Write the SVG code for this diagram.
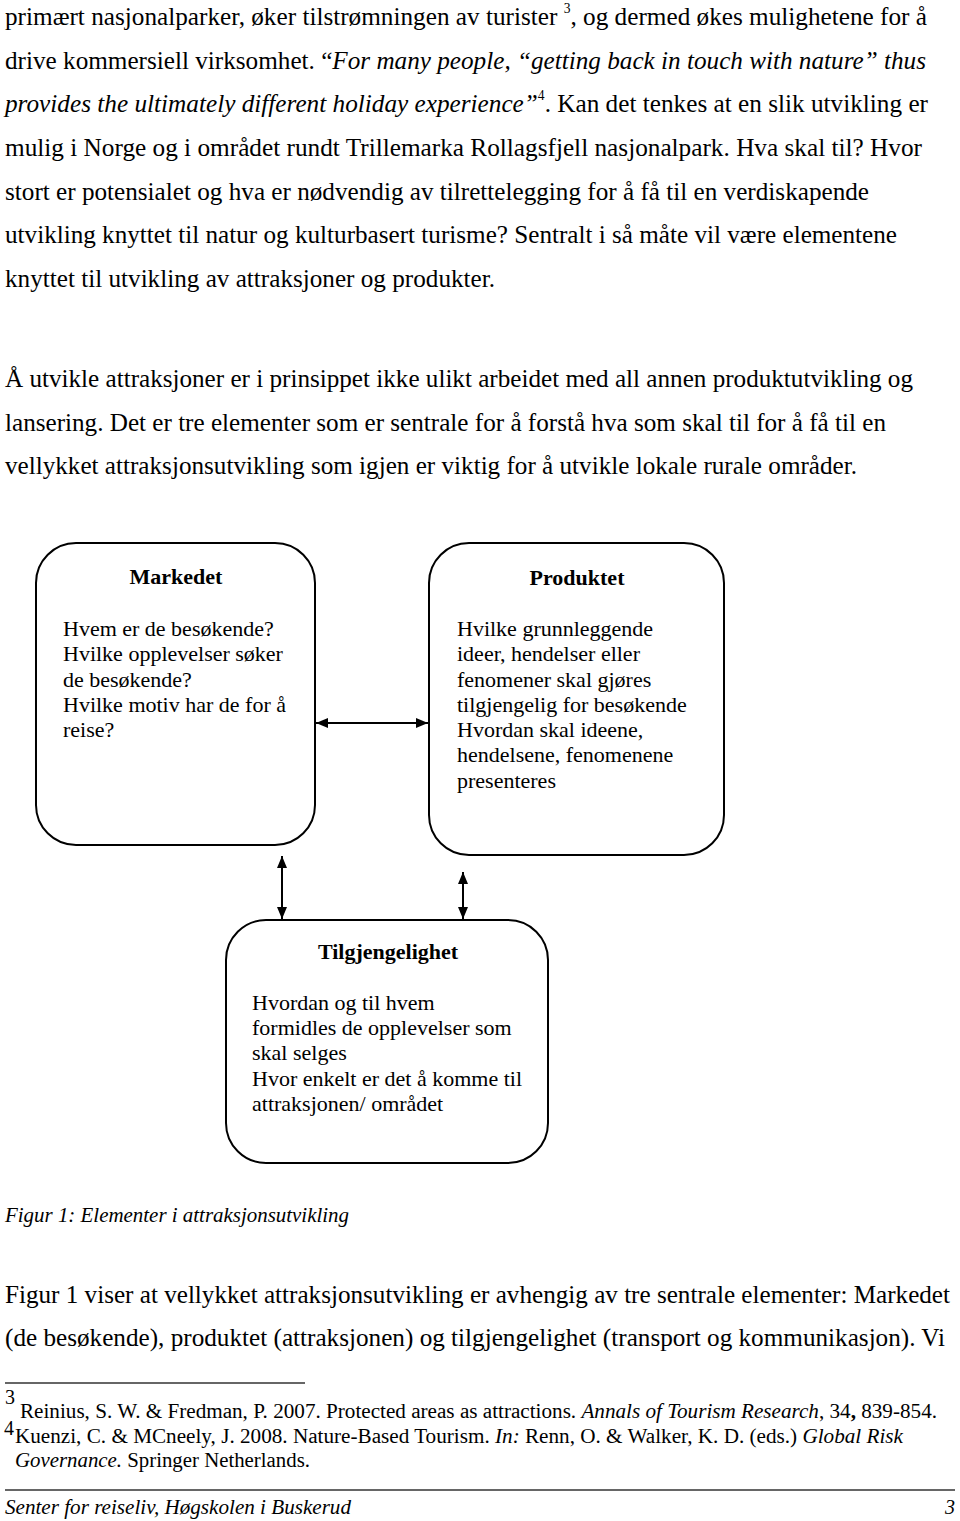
<svg xmlns="http://www.w3.org/2000/svg" width="960" height="1521" viewBox="0 0 960 1521">
<style>
.b{font-family:"Liberation Serif","Times New Roman",serif;font-size:26px;fill:#000}
.i{font-style:italic}
.bx{font-family:"Liberation Serif","Times New Roman",serif;font-size:22px;fill:#000}
.t{font-weight:bold;text-anchor:middle}
.fn{font-family:"Liberation Serif","Times New Roman",serif;font-size:20px;fill:#000}
.box{fill:#fff;stroke:#000;stroke-width:2}
.con{stroke:#000;stroke-width:2;fill:none}
</style>
<defs>
<marker id="ah" viewBox="0 0 12 10" refX="12" refY="5" markerWidth="12" markerHeight="10" orient="auto-start-reverse" markerUnits="userSpaceOnUse"><path d="M0,0 L12,5 L0,10 z" fill="#000"/></marker>
</defs>
<rect width="960" height="1521" fill="#fff"/>
<g id="body-text">
<text class="b" x="5" y="25" textLength="922" lengthAdjust="spacingAndGlyphs">primært nasjonalparker, øker tilstrømningen av turister <tspan font-size="14" dy="-12">3</tspan><tspan dy="12">, og dermed økes mulighetene for å</tspan></text>
<text class="b" x="5" y="69" textLength="921" lengthAdjust="spacingAndGlyphs">drive kommersiell virksomhet. “<tspan class="i">For many people, “getting back in touch with nature” thus</tspan></text>
<text class="b" x="5" y="112" textLength="923" lengthAdjust="spacingAndGlyphs"><tspan class="i">provides the ultimately different holiday experience”</tspan><tspan font-size="14" dy="-12">4</tspan><tspan dy="12">. Kan det tenkes at en slik utvikling er</tspan></text>
<text class="b" x="5" y="156" textLength="917" lengthAdjust="spacingAndGlyphs">mulig i Norge og i området rundt Trillemarka Rollagsfjell nasjonalpark. Hva skal til? Hvor</text>
<text class="b" x="5" y="200" textLength="864" lengthAdjust="spacingAndGlyphs">stort er potensialet og hva er nødvendig av tilrettelegging for å få til en verdiskapende</text>
<text class="b" x="5" y="243" textLength="892" lengthAdjust="spacingAndGlyphs">utvikling knyttet til natur og kulturbasert turisme? Sentralt i så måte vil være elementene</text>
<text class="b" x="5" y="287" textLength="490" lengthAdjust="spacingAndGlyphs">knyttet til utvikling av attraksjoner og produkter.</text>
<text class="b" x="5" y="387" textLength="908" lengthAdjust="spacingAndGlyphs">Å utvikle attraksjoner er i prinsippet ikke ulikt arbeidet med all annen produktutvikling og</text>
<text class="b" x="5" y="431" textLength="881" lengthAdjust="spacingAndGlyphs">lansering. Det er tre elementer som er sentrale for å forstå hva som skal til for å få til en</text>
<text class="b" x="5" y="474" textLength="852" lengthAdjust="spacingAndGlyphs">vellykket attraksjonsutvikling som igjen er viktig for å utvikle lokale rurale områder.</text>
<text class="fn i" x="5" y="1222" textLength="344" lengthAdjust="spacingAndGlyphs">Figur 1: Elementer i attraksjonsutvikling</text>
<text class="b" x="5" y="1303" textLength="945" lengthAdjust="spacingAndGlyphs">Figur 1 viser at vellykket attraksjonsutvikling er avhengig av tre sentrale elementer: Markedet</text>
<text class="b" x="5" y="1346" textLength="940" lengthAdjust="spacingAndGlyphs">(de besøkende), produktet (attraksjonen) og tilgjengelighet (transport og kommunikasjon). Vi</text>
</g>
<g id="footnotes">
<line x1="5" y1="1383" x2="305" y2="1383" stroke="#333" stroke-width="1.5"/>
<text class="fn" x="5" y="1404" font-size="13">3</text>
<text class="fn" x="20" y="1418" textLength="917" lengthAdjust="spacingAndGlyphs">Reinius, S. W. &amp; Fredman, P. 2007. Protected areas as attractions. <tspan class="i">Annals of Tourism Research</tspan>, 34<tspan font-weight="bold">,</tspan> 839-854.</text>
<text class="fn" x="4" y="1435" font-size="13">4</text>
<text class="fn" x="15" y="1443" textLength="888" lengthAdjust="spacingAndGlyphs">Kuenzi, C. &amp; MCneely, J. 2008. Nature-Based Tourism. <tspan class="i">In:</tspan> Renn, O. &amp; Walker, K. D. (eds.) <tspan class="i">Global Risk</tspan></text>
<text class="fn" x="15" y="1467" textLength="295" lengthAdjust="spacingAndGlyphs"><tspan class="i">Governance.</tspan> Springer Netherlands.</text>
<line x1="5" y1="1490" x2="955" y2="1490" stroke="#333" stroke-width="1.5"/>
<text class="fn i" x="5" y="1514" textLength="346" lengthAdjust="spacingAndGlyphs">Senter for reiseliv, Høgskolen i Buskerud</text>
<text class="fn i" x="955" y="1514" text-anchor="end">3</text>
</g>
<g id="node-markedet">
<rect class="box" x="36" y="543" width="279" height="302" rx="40" ry="40"/>
<text class="bx t" x="176" y="584">Markedet</text>
<text class="bx" x="63" y="636">Hvem er de besøkende?</text>
<text class="bx" x="63" y="661">Hvilke opplevelser søker</text>
<text class="bx" x="63" y="687">de besøkende?</text>
<text class="bx" x="63" y="712">Hvilke motiv har de for å</text>
<text class="bx" x="63" y="737">reise?</text>
</g>
<g id="node-produktet">
<rect class="box" x="429" y="543" width="295" height="312" rx="40" ry="40"/>
<text class="bx t" x="577" y="585">Produktet</text>
<text class="bx" x="457" y="636">Hvilke grunnleggende</text>
<text class="bx" x="457" y="661">ideer, hendelser eller</text>
<text class="bx" x="457" y="687">fenomener skal gjøres</text>
<text class="bx" x="457" y="712">tilgjengelig for besøkende</text>
<text class="bx" x="457" y="737">Hvordan skal ideene,</text>
<text class="bx" x="457" y="762">hendelsene, fenomenene</text>
<text class="bx" x="457" y="788">presenteres</text>
</g>
<g id="node-tilgjengelighet">
<rect class="box" x="226" y="920" width="322" height="243" rx="40" ry="40"/>
<text class="bx t" x="388" y="959">Tilgjengelighet</text>
<text class="bx" x="252" y="1010">Hvordan og til hvem</text>
<text class="bx" x="252" y="1035">formidles de opplevelser som</text>
<text class="bx" x="252" y="1060">skal selges</text>
<text class="bx" x="252" y="1086">Hvor enkelt er det å komme til</text>
<text class="bx" x="252" y="1111">attraksjonen/ området</text>
</g>
<g id="connectors">
<line class="con" x1="316" y1="723" x2="428" y2="723" marker-start="url(#ah)" marker-end="url(#ah)"/>
<line class="con" x1="282" y1="856" x2="282" y2="919" marker-start="url(#ah)" marker-end="url(#ah)"/>
<line class="con" x1="463" y1="872" x2="463" y2="919" marker-start="url(#ah)" marker-end="url(#ah)"/>
</g>
</svg>
